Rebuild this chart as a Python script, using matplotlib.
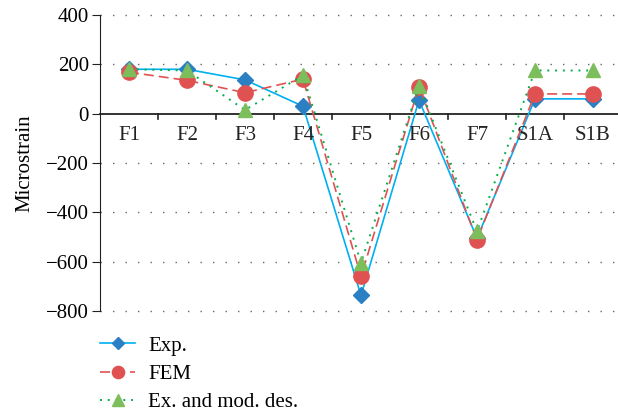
import numpy as np
import matplotlib.pyplot as plt

plt.rcParams['font.family'] = ['Liberation Serif', 'DejaVu Serif']

categories = ["F1", "F2", "F3", "F4", "F5", "F6", "F7", "S1A", "S1B"]
exp_vals = [180, 180, 137, 30, -737, 55, -505, 60, 60]
fem_vals = [168, 135, 85, 140, -660, 110, -512, 80, 80]
mod_vals = [180, 175, 15, 155, -605, 112, -477, 175, 175]
yticks = [-800, -600, -400, -200, 0, 200, 400]

fig = plt.figure(figsize=(6.18, 4.15), dpi=100)
ax = fig.add_axes([100/618, 1 - 311/415, 522/618, 296/415])

x = np.arange(len(categories))
ax.plot(x, exp_vals, color="#00B0F0", lw=1.2, marker="D", ms=8,
        mfc="#2B7FC3", mec="#2B7FC3", label="Exp.", zorder=3)
ax.plot(x, fem_vals, color="#E05252", lw=1.2, ls=(0, (6, 3)), marker="o", ms=11,
        mfc="#E05252", mec="#E05252", label="FEM", zorder=4)
ax.plot(x, mod_vals, color="#00B050", lw=1.4, ls=(0, (1, 3)), marker="^", ms=10,
        mfc="#7DBE5C", mec="#7DBE5C", label="Ex. and mod. des.", zorder=5)

ax.set_xlim(-0.5, len(categories) - 0.5)
ax.set_ylim(-800, 400)
ax.set_yticks(yticks)
ax.set_yticklabels([str(v).replace("-", "\u2212") for v in yticks], fontsize=15)
for v in yticks:
    if v != 0:
        ax.axhline(v, color="#666666", lw=1, ls=(0, (1, 8)), zorder=1, clip_on=False)

for s in ["top", "right", "bottom"]:
    ax.spines[s].set_visible(False)
ax.spines["left"].set_color("#222222")
ax.tick_params(axis="y", direction="out", length=6, color="#222222", pad=2)
ax.axhline(0, color="#222222", lw=1.3, zorder=2, clip_on=False)

ax.set_xticks([])
for i in range(1, len(categories)):
    ax.plot([i - 0.5, i - 0.5], [0, -20], color="#222222", lw=1.2, clip_on=False)
for i, c in enumerate(categories):
    ax.text(i, -50, c, ha="center", va="top", fontsize=15, color="#222222")

ax.set_ylabel("Microstrain", fontsize=15, labelpad=8)

leg = fig.legend(loc="upper left", bbox_to_anchor=(100/618, 1 - 336/415), frameon=False,
                 fontsize=15, handlelength=1.7, labelspacing=0.42, handletextpad=0.6,
                 borderpad=0, borderaxespad=0, markerscale=0.8)

fig.savefig("out.png", dpi=100)
